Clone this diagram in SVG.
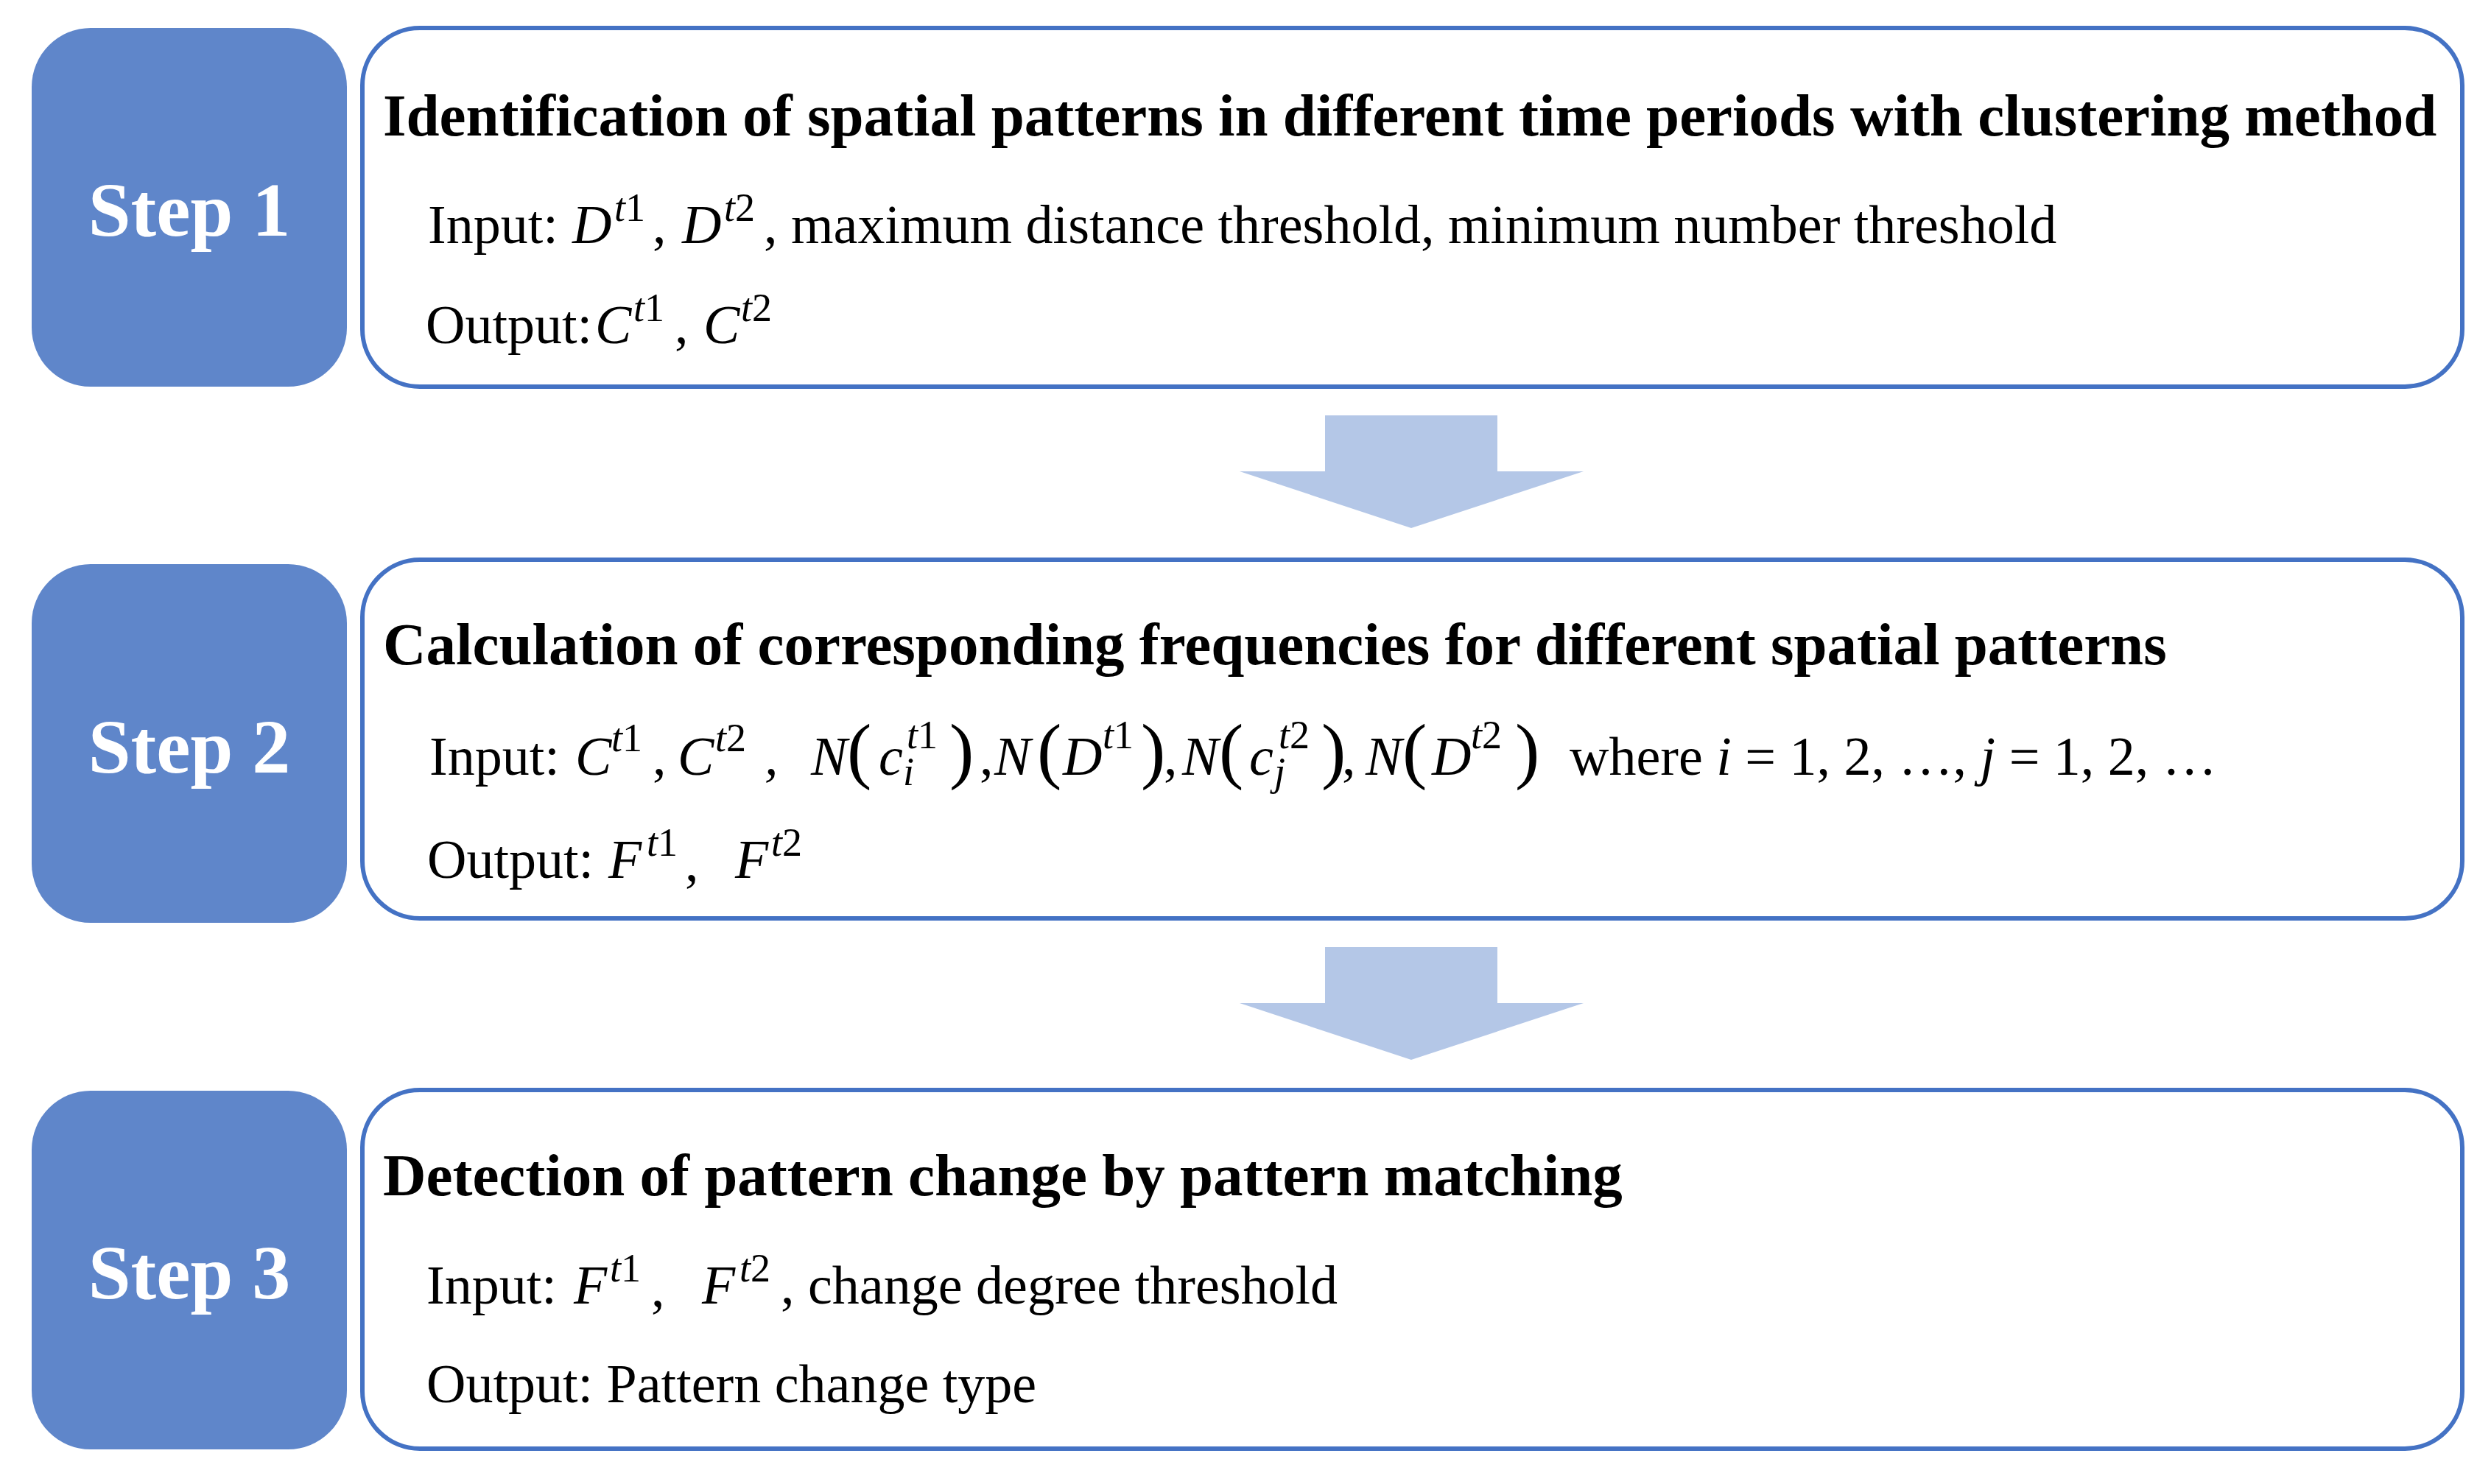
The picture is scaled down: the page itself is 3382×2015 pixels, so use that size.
<svg xmlns="http://www.w3.org/2000/svg" width="3382" height="2015" viewBox="0 0 3382 2015">
<style>
.bg{fill:#ffffff}
.stepbox{fill:#5F86CA}
.card{fill:#ffffff;stroke:#4472C4;stroke-width:6}
.arrow{fill:#B4C7E7}
text{font-family:"Liberation Serif","Times New Roman",serif;fill:#000}
.step{font-weight:bold;font-size:104px;fill:#ffffff;text-anchor:middle}
.title{font-weight:bold;font-size:81px}
.body{font-size:74px}
.m{font-style:italic}
.sup{font-size:54px;font-style:italic}
.n{font-style:normal}
.par{font-size:100px}
</style>
<rect class="bg" x="0" y="0" width="3382" height="2015"/>
<g id="connectors">
<polygon class="arrow" points="1799,564 2033,564 2033,640 2150,640 1916,717 1683,640 1799,640"/>
<polygon class="arrow" points="1799,1286 2033,1286 2033,1362 2150,1362 1916,1439 1683,1362 1799,1362"/>
</g>
<g id="step1">
<rect class="stepbox" x="43" y="38" width="428" height="487" rx="80" ry="80"/>
<text class="step" x="257" y="320">Step 1</text>
</g>
<g id="box1">
<rect class="card" x="492" y="38" width="2851" height="487" rx="78" ry="78"/>
<text class="title" x="520" y="184">Identification of spatial patterns in different time periods with clustering method</text>
<text class="body" y="330"><tspan x="581">Input: </tspan><tspan class="m" x="777">D</tspan><tspan class="sup" x="834" y="300">t<tspan class="n">1</tspan></tspan><tspan x="886" y="330">,</tspan><tspan class="m" x="926">D</tspan><tspan class="sup" x="983" y="300">t<tspan class="n">2</tspan></tspan><tspan x="1037" y="330">, maximum distance threshold, minimum number threshold</tspan></text>
<text class="body" y="466"><tspan x="578">Output:</tspan><tspan class="m" x="808">C</tspan><tspan class="sup" x="860" y="436">t<tspan class="n">1</tspan></tspan><tspan x="916" y="466">,</tspan><tspan class="m" x="955">C</tspan><tspan class="sup" x="1006" y="436">t<tspan class="n">2</tspan></tspan></text>
</g>
<g id="step2">
<rect class="stepbox" x="43" y="766" width="428" height="487" rx="80" ry="80"/>
<text class="step" x="257" y="1049">Step 2</text>
</g>
<g id="box2">
<rect class="card" x="492" y="760" width="2851" height="487" rx="78" ry="78"/>
<text class="title" x="520" y="902">Calculation of corresponding frequencies for different spatial patterns</text>
<text class="body" y="1052"><tspan x="583">Input: </tspan><tspan class="m" x="781">C</tspan><tspan class="sup" x="830" y="1020">t<tspan class="n">1</tspan></tspan><tspan x="886" y="1052">,</tspan><tspan class="m" x="920">C</tspan><tspan class="sup" x="971" y="1020">t<tspan class="n">2</tspan></tspan><tspan class="m" x="1038" y="1052">,</tspan><tspan class="m" x="1101">N</tspan><tspan class="par" x="1150">(</tspan><tspan class="m" x="1193">c</tspan><tspan class="sup" x="1231" y="1016">t<tspan class="n">1</tspan></tspan><tspan class="sup" x="1226" y="1066">i</tspan><tspan class="par" x="1289" y="1052">)</tspan><tspan x="1330">,</tspan><tspan class="m" x="1350">N</tspan><tspan class="par" x="1408">(</tspan><tspan class="m" x="1443">D</tspan><tspan class="sup" x="1497" y="1016">t<tspan class="n">1</tspan></tspan><tspan class="par" x="1549" y="1052">)</tspan><tspan x="1580">,</tspan><tspan class="m" x="1605">N</tspan><tspan class="par" x="1655">(</tspan><tspan class="m" x="1696">c</tspan><tspan class="sup" x="1736" y="1016">t<tspan class="n">2</tspan></tspan><tspan class="sup" x="1730" y="1066">j</tspan><tspan class="par" x="1794" y="1052">)</tspan><tspan x="1822">,</tspan><tspan class="m" x="1854">N</tspan><tspan class="par" x="1904">(</tspan><tspan class="m" x="1944">D</tspan><tspan class="sup" x="1997" y="1016">t<tspan class="n">2</tspan></tspan><tspan class="par" x="2057" y="1052">)</tspan><tspan x="2131">where </tspan><tspan class="m">i</tspan><tspan> = 1, 2, …, </tspan><tspan class="m">j</tspan><tspan> = 1, 2, …</tspan></text>
<text class="body" y="1192"><tspan x="580">Output: </tspan><tspan class="m" x="826">F</tspan><tspan class="sup" x="878" y="1162">t<tspan class="n">1</tspan></tspan><tspan x="930" y="1196">,</tspan><tspan class="m" x="998" y="1192">F</tspan><tspan class="sup" x="1047" y="1162">t<tspan class="n">2</tspan></tspan></text>
</g>
<g id="step3">
<rect class="stepbox" x="43" y="1481" width="428" height="487" rx="80" ry="80"/>
<text class="step" x="257" y="1763">Step 3</text>
</g>
<g id="box3">
<rect class="card" x="492" y="1480" width="2851" height="487" rx="78" ry="78"/>
<text class="title" x="520" y="1623">Detection of pattern change by pattern matching</text>
<text class="body" y="1770"><tspan x="579">Input: </tspan><tspan class="m" x="779">F</tspan><tspan class="sup" x="828" y="1740">t<tspan class="n">1</tspan></tspan><tspan x="884" y="1774">,</tspan><tspan class="m" x="953" y="1770">F</tspan><tspan class="sup" x="1004" y="1740">t<tspan class="n">2</tspan></tspan><tspan x="1060" y="1770">, change degree threshold</tspan></text>
<text class="body" x="579" y="1904">Output: Pattern change type</text>
</g>
</svg>
